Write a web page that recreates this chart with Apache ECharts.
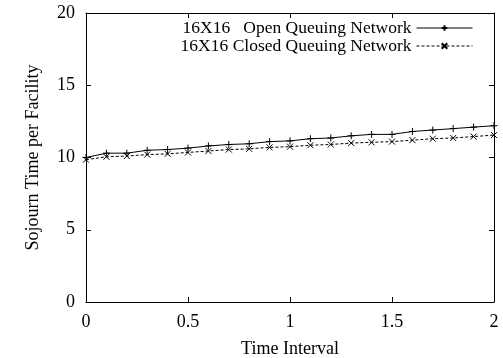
<!DOCTYPE html>
<html>
<head>
<meta charset="utf-8">
<script src="https://cdn.jsdelivr.net/npm/echarts@6/dist/echarts.min.js"></script>
<style>
  html, body { margin: 0; padding: 0; background: #fff; }
  #chart { width: 503px; height: 358px; }
</style>
</head>
<body>
<div id="chart"></div>
<script>
// time interval steps
const timeX = [0, 0.1, 0.2, 0.3, 0.4, 0.5, 0.6, 0.7, 0.8, 0.9, 1.0, 1.1, 1.2, 1.3, 1.4, 1.5, 1.6, 1.7, 1.8, 1.9, 2.0];
const openNet = [10.0, 10.3, 10.3, 10.5, 10.55, 10.65, 10.8, 10.9, 10.95, 11.1, 11.15, 11.3, 11.35, 11.5, 11.6, 11.6, 11.8, 11.9, 12.0, 12.1, 12.2];
const closedNet = [9.85, 10.05, 10.1, 10.2, 10.25, 10.35, 10.45, 10.55, 10.6, 10.7, 10.75, 10.85, 10.9, 11.0, 11.05, 11.1, 11.2, 11.3, 11.35, 11.45, 11.55];
const seriesNames = ["16X16   Open Queuing Network", "16X16 Closed Queuing Network"];

const font = "Liberation Serif, Times New Roman, serif";
const plus = "path://M0,5L10,5M5,0L5,10";
const cross = "path://M0,0L10,10M10,0L0,10";

const chart = echarts.init(document.getElementById("chart"));

const pairs = ys => timeX.map((x, i) => [x, ys[i]]);

const axisCommon = {
  axisLine: { onZero: false, lineStyle: { color: "#000", width: 1 } },
  axisTick: { inside: true, length: 5, lineStyle: { color: "#000" } },
  splitLine: { show: false }
};
const labelStyle = { fontFamily: font, fontSize: 18, color: "#000" };

chart.setOption({
  animation: false,
  textStyle: { fontFamily: font },
  grid: { left: 86, right: 9, top: 13, bottom: 56, outerBoundsMode: "none", containLabel: false },
  legend: {
    orient: "vertical",
    right: 30,
    top: 19,
    align: "right",
    itemWidth: 56,
    itemHeight: 7,
    itemGap: 0,
    padding: [0, 0, 0, 0],
    lineStyle: { width: 1 },
    textStyle: { fontFamily: font, fontSize: 17.5, color: "#000", padding: [0, 0, 0, 0], lineHeight: 17 },
    data: seriesNames
  },
  xAxis: [
    {
      ...axisCommon,
      type: "value",
      min: 0,
      max: 2,
      interval: 0.5,
      name: "Time Interval",
      nameLocation: "middle",
      nameGap: 38,
      nameTextStyle: labelStyle,
      axisLabel: { ...labelStyle, margin: 11 }
    },
    {
      ...axisCommon,
      type: "value",
      position: "top",
      min: 0,
      max: 2,
      interval: 0.5,
      axisLabel: { show: false }
    }
  ],
  yAxis: [
    {
      ...axisCommon,
      type: "value",
      min: 0,
      max: 20,
      interval: 5,
      name: "Sojourn Time per Facility",
      nameLocation: "middle",
      nameGap: 44,
      nameTextStyle: labelStyle,
      axisLabel: { ...labelStyle, margin: 11 }
    },
    {
      ...axisCommon,
      type: "value",
      position: "right",
      min: 0,
      max: 20,
      interval: 5,
      axisLabel: { show: false }
    }
  ],
  series: [
    {
      name: seriesNames[0],
      type: "line",
      data: pairs(openNet),
      symbol: plus,
      symbolSize: 7,
      showAllSymbol: true,
      lineStyle: { color: "#000", width: 1 },
      itemStyle: { color: "none", borderColor: "#000", borderWidth: 1 }
    },
    {
      name: seriesNames[1],
      type: "line",
      data: pairs(closedNet),
      symbol: cross,
      symbolSize: 6,
      showAllSymbol: true,
      lineStyle: { color: "#000", width: 1, type: [3, 2] },
      itemStyle: { color: "none", borderColor: "#000", borderWidth: 1 }
    }
  ]
});
</script>
</body>
</html>
